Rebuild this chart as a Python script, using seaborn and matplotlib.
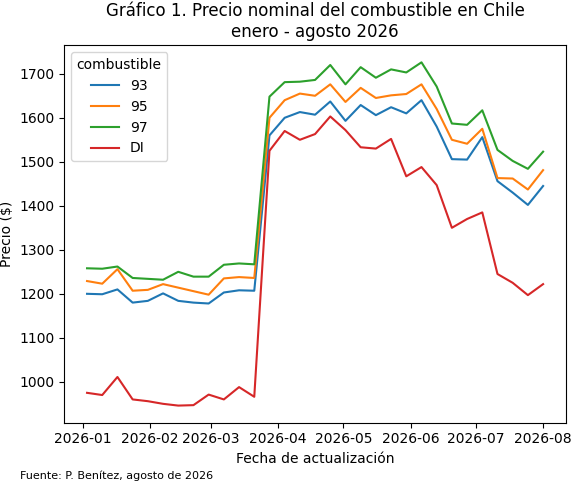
import numpy as np
import pandas as pd
import matplotlib.pyplot as plt
import seaborn as sns

fechas = pd.date_range("2026-01-03", periods=31, freq="7D")

p93 = [1200, 1199, 1210, 1180, 1184, 1201, 1184, 1180, 1178, 1203, 1208, 1207,
       1560, 1600, 1613, 1607, 1637, 1593, 1629, 1606, 1624, 1610, 1640, 1580,
       1506, 1505, 1556, 1456, 1430, 1402, 1445]
p95 = [1229, 1223, 1256, 1207, 1209, 1222, 1214, 1206, 1198, 1235, 1238, 1236,
       1600, 1640, 1655, 1650, 1676, 1636, 1668, 1645, 1651, 1654, 1676, 1620,
       1550, 1541, 1575, 1463, 1462, 1437, 1481]
p97 = [1258, 1257, 1262, 1236, 1234, 1232, 1250, 1239, 1239, 1266, 1269, 1267,
       1648, 1681, 1682, 1686, 1720, 1676, 1715, 1691, 1710, 1703, 1726, 1671,
       1587, 1584, 1617, 1527, 1502, 1484, 1523]
pdi = [975, 970, 1011, 960, 956, 950, 946, 947, 971, 960, 988, 966,
       1525, 1570, 1550, 1563, 1603, 1572, 1533, 1530, 1552, 1467, 1488, 1447,
       1350, 1370, 1385, 1245, 1225, 1197, 1222]

df = pd.concat([
    pd.DataFrame({"fecha": fechas, "precio": v, "combustible": k})
    for k, v in [("93", p93), ("95", p95), ("97", p97), ("DI", pdi)]
])

fig, ax = plt.subplots(figsize=(5.84, 4.91), dpi=100)
sns.lineplot(data=df, x="fecha", y="precio", hue="combustible", ax=ax)
ax.set_title("Gráfico 1. Precio nominal del combustible en Chile\nenero - agosto 2026")
ax.set_xlabel("Fecha de actualización")
ax.set_ylabel("Precio ($)")
fig.subplots_adjust(left=0.11, right=0.969, top=0.908, bottom=0.139)
fig.text(0.034, 0.025, "Fuente: P. Benítez, agosto de 2026", fontsize=8)
fig.savefig("out.png")
